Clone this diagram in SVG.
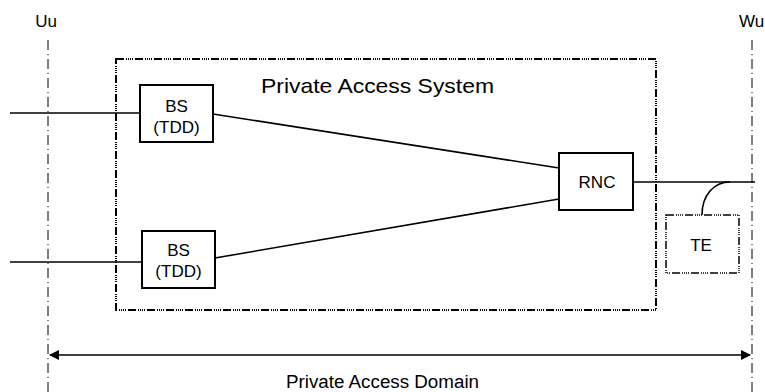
<svg xmlns="http://www.w3.org/2000/svg" width="765" height="392" viewBox="0 0 765 392">
<defs>
<style>
text{font-family:"Liberation Sans",Arial,sans-serif;fill:#000}
.lbl{font-size:17px;text-anchor:middle}
.box{fill:#fff;stroke:#000;stroke-width:2}
.ln{stroke:#000;stroke-width:1.6;fill:none}
.ref{stroke:#000;stroke-width:1;stroke-dasharray:10 4 1 4;fill:none}
.dd{stroke:#000;stroke-width:2;stroke-dasharray:8 2 1 1 1 1 1 1 1 2;fill:none}
</style>
<marker id="ah" markerWidth="10" markerHeight="10" refX="9" refY="5" orient="auto-start-reverse" markerUnits="userSpaceOnUse">
<path d="M0,0 L10,5 L0,10 z" fill="#000"/>
</marker>
</defs>
<rect width="765" height="392" fill="#fff"/>
<g id="ref-lines">
<line class="ref" x1="48" y1="40" x2="48" y2="392"/>
<line class="ref" x1="752" y1="40" x2="752" y2="392"/>
<text x="46" y="27" font-size="17" text-anchor="middle">Uu</text>
<text x="739" y="27" font-size="17">Wu</text>
</g>
<g id="pas">
<rect class="dd" x="116" y="59" width="540" height="251"/>
<text x="261" y="93" font-size="21" textLength="233" lengthAdjust="spacingAndGlyphs">Private Access System</text>
</g>
<g id="connectors">
<line class="ln" x1="10" y1="113" x2="140" y2="113"/>
<line class="ln" x1="10" y1="262" x2="142" y2="262"/>
<line class="ln" x1="213" y1="114" x2="559" y2="168"/>
<line class="ln" x1="215" y1="258" x2="559" y2="199"/>
<line class="ln" x1="633" y1="182" x2="755" y2="182"/>
<path class="ln" d="M702,215 C702,195 714,182 730,182"/>
<line stroke="#000" stroke-width="1.5" x1="50" y1="355" x2="750" y2="355" marker-start="url(#ah)" marker-end="url(#ah)"/>
</g>
<g id="bs1">
<rect class="box" x="140" y="85" width="73" height="57"/>
<text class="lbl" x="176.5" y="111.5">BS</text>
<text class="lbl" x="176.5" y="132.5">(TDD)</text>
</g>
<g id="bs2">
<rect class="box" x="142" y="231" width="73" height="57"/>
<text class="lbl" x="178.5" y="256">BS</text>
<text class="lbl" x="178.5" y="277">(TDD)</text>
</g>
<g id="rnc">
<rect class="box" x="559" y="153" width="74" height="57"/>
<text class="lbl" x="597" y="188">RNC</text>
</g>
<g id="te">
<rect class="dd" x="666" y="215" width="73" height="58" style="stroke-width:1.5"/>
<text class="lbl" x="701" y="251">TE</text>
</g>
<text x="286" y="388" font-size="18" textLength="193" lengthAdjust="spacingAndGlyphs">Private Access Domain</text>
</svg>
